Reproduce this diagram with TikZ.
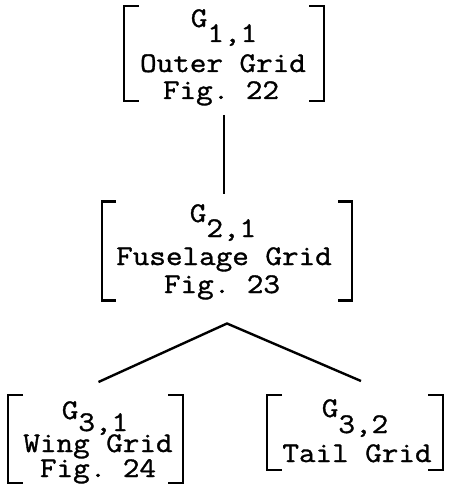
\documentclass[tikz,border=0pt]{standalone}
\usepackage{fontspec}
\setmonofont{Latin Modern Mono}[FakeStretch=1.13,FakeBold=1.2]
\usetikzlibrary{calc}
\newcommand\bracketbox[2]{%
  \draw[brk] ([xshift=#2]#1.north west) -- (#1.north west) -- (#1.south west) -- ([xshift=#2]#1.south west);
  \draw[brk] ([xshift=-#2]#1.north east) -- (#1.north east) -- (#1.south east) -- ([xshift=-#2]#1.south east);}
\newcommand\Gsub[2]{G\raisebox{-#1pt}{#2}}
\begin{document}
\begin{tikzpicture}[x=1pt,y=-1pt,
  box/.style={draw=none,inner sep=0pt,outer sep=0pt},
  brk/.style={line width=2.6pt,line cap=butt,line join=miter},
  conn/.style={line width=2.4pt},
  txt/.style={inner sep=0pt,anchor=base,font=\ttfamily\fontsize{28.5}{30}\selectfont}]
\useasboundingbox (0,0) rectangle (448,497);
% boxes
\node[box,minimum width=200pt,minimum height=95pt] (b1) at (224,53.5) {};
\node[box,minimum width=250pt,minimum height=99pt] (b2) at (227,251) {};
\node[box,minimum width=175pt,minimum height=88pt] (b3) at (95.5,439) {};
\node[box,minimum width=176pt,minimum height=75pt] (b4) at (355,432.5) {};
\bracketbox{b1}{15pt}
\bracketbox{b2}{14pt}
\bracketbox{b3}{15pt}
\bracketbox{b4}{15pt}
% texts
\node[txt] (t1a) at (224,27) {\Gsub{15}{1,1}};
\node[txt] (t1b) at (223,72) {Outer Grid};
\node[txt] (t1c) at (221,99) {Fig. 22};
\node[txt] (t2a) at (223,222) {\Gsub{15}{2,1}};
\node[txt] (t2b) at (224,265) {Fuselage Grid};
\node[txt] (t2c) at (222,293) {Fig. 23};
\node[txt] (t3a) at (95,419) {\Gsub{12}{3,1}};
\node[txt] (t3b) at (98,452) {Wing Grid};
\node[txt] (t3c) at (98,477) {Fig. 24};
\node[txt] (t4a) at (355,417) {\Gsub{16}{3,2}};
\node[txt] (t4b) at (357,462) {Tail Grid};
% connectors
\draw[conn,shorten <=14pt,shorten >=8pt] (b1.south) -- (b1.south |- b2.north);
\coordinate (apex) at ($(b2.south)+(0,23)$);
\draw[conn] ($(b3.north)+(3,-13)$) -- (apex) -- ($(b4.north)+(6,-14)$);
\end{tikzpicture}
\end{document}
